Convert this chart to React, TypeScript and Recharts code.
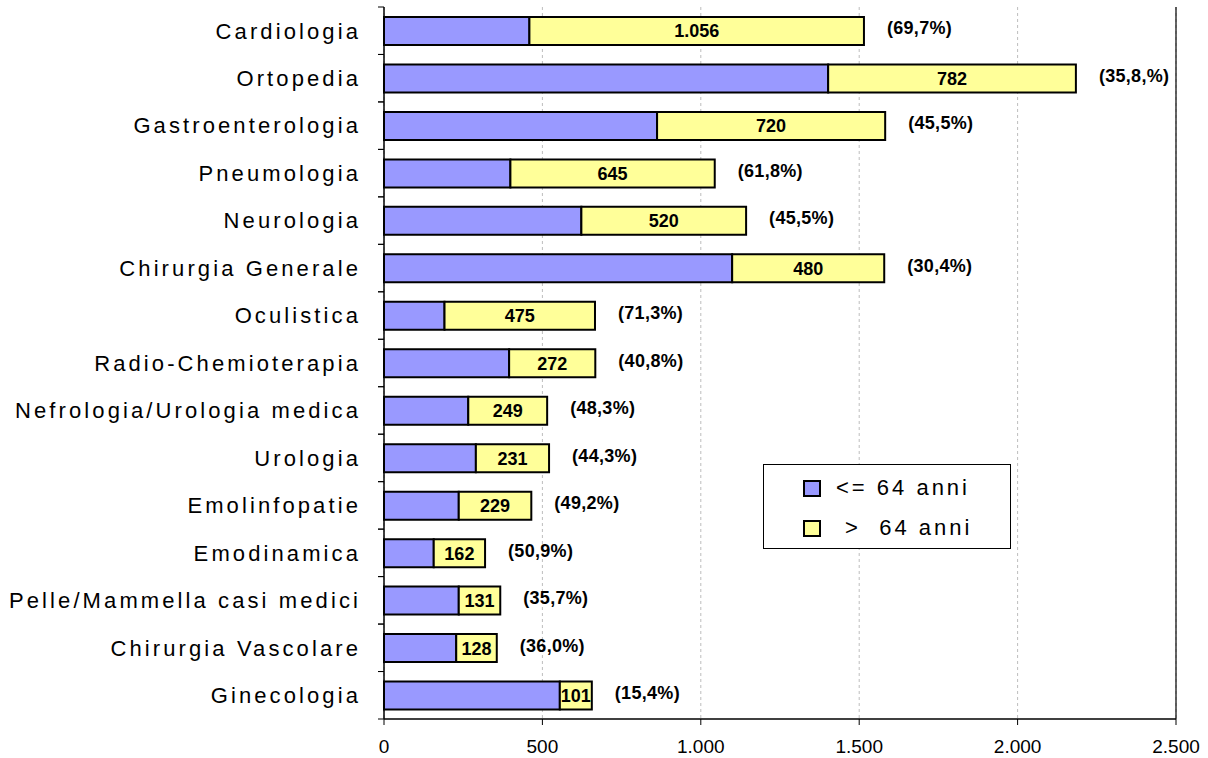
import React from 'react';
import { BarChart, Bar, XAxis, YAxis, CartesianGrid, ReferenceLine, LabelList } from 'recharts';

const categories = [
  'Cardiologia', 'Ortopedia', 'Gastroenterologia', 'Pneumologia', 'Neurologia',
  'Chirurgia Generale', 'Oculistica', 'Radio-Chemioterapia', 'Nefrologia/Urologia medica',
  'Urologia', 'Emolinfopatie', 'Emodinamica', 'Pelle/Mammella casi medici',
  'Chirurgia Vascolare', 'Ginecologia',
];
const under64 = [459, 1402, 862, 399, 623, 1099, 191, 395, 266, 290, 236, 157, 236, 228, 555];
const over64 = [1056, 782, 720, 645, 520, 480, 475, 272, 249, 231, 229, 162, 131, 128, 101];
const pctLabels = [
  '(69,7%)', '(35,8,%)', '(45,5%)', '(61,8%)', '(45,5%)', '(30,4%)', '(71,3%)', '(40,8%)',
  '(48,3%)', '(44,3%)', '(49,2%)', '(50,9%)', '(35,7%)', '(36,0%)', '(15,4%)',
];
const xTicks = [0, 500, 1000, 1500, 2000, 2500];
const seriesNames = ['<= 64 anni', ' >  64 anni'];

const data = categories.map((name, i) => ({
  name,
  under: under64[i],
  over: over64[i],
  pct: pctLabels[i],
}));

const FONT = '"Liberation Sans", Arial, sans-serif';
const BLUE = '#9999FF';
const YELLOW = '#FFFF99';

const fmt = (v: number) => v.toString().replace(/\B(?=(\d{3})+(?!\d))/g, '.');

const CategoryTick = (props: any) => {
  const { x, y, payload } = props;
  const half = payload && payload.offset ? payload.offset : 23.7;
  const axisX = x + 20;
  return (
    <g>
      <line x1={axisX - 6} x2={axisX} y1={y - half} y2={y - half} stroke="#000" strokeWidth={1} />
      <line x1={axisX - 6} x2={axisX} y1={y + half} y2={y + half} stroke="#000" strokeWidth={1} />
      <text
        x={x - 3}
        y={y}
        dy="0.355em"
        textAnchor="end"
        fontFamily={FONT}
        fontSize={22}
        letterSpacing={3.1}
        fill="#000"
      >
        {payload.value}
      </text>
    </g>
  );
};

const ValueLabel = (props: any) => {
  const { x, y, width, height, value } = props;
  return (
    <text
      x={x + width / 2}
      y={y + height / 2}
      dy="0.36em"
      textAnchor="middle"
      fontFamily={FONT}
      fontWeight="bold"
      fontSize={18}
      fill="#000"
    >
      {fmt(value)}
    </text>
  );
};

const PctLabel = (props: any) => {
  const { x, y, width, height, value } = props;
  return (
    <text
      x={x + width + 23}
      y={y + height / 2 - 3}
      dy="0.36em"
      textAnchor="start"
      fontFamily={FONT}
      fontWeight="bold"
      fontSize={18}
      letterSpacing={0.3}
      fill="#000"
    >
      {value}
    </text>
  );
};

const LegendBox = () => (
  <div
    style={{
      position: 'absolute',
      left: 763,
      top: 464,
      width: 246,
      height: 83,
      border: '1px solid #000',
      background: '#fff',
      fontFamily: FONT,
      fontSize: 22,
      letterSpacing: 3,
      color: '#000',
    }}
  >
    {seriesNames.map((n, i) => (
      <div
        key={n}
        style={{
          position: 'absolute',
          left: 39,
          top: i === 0 ? 12 : 52,
          height: 22,
          display: 'flex',
          alignItems: 'center',
          whiteSpace: 'pre',
        }}
      >
        <div
          style={{
            width: 14,
            height: 13,
            border: '2px solid #000',
            background: i === 0 ? BLUE : YELLOW,
            marginRight: 15,
          }}
        />
        <span>{n}</span>
      </div>
    ))}
  </div>
);

export default function App() {
  return (
    <div style={{ position: 'absolute', left: 0, top: 0, width: 1208, height: 758, background: '#fff' }}>
      <BarChart
        width={1208}
        height={758}
        data={data}
        layout="vertical"
        margin={{ top: 7, right: 32, bottom: 0, left: 0 }}
        barCategoryGap="38%"
      >
        <CartesianGrid horizontal={false} stroke="#bdbdbd" strokeDasharray="3 3" />
        <XAxis
          type="number"
          xAxisId={0}
          domain={[0, 2500]}
          ticks={xTicks}
          height={39}
          tickFormatter={fmt}
          tickSize={6}
          tickMargin={15}
          axisLine={{ stroke: '#000', strokeWidth: 1.5 }}
          tickLine={{ stroke: '#000' }}
          tick={{ fontFamily: FONT, fontSize: 19, fill: '#000' }}
          interval={0}
        />
        <XAxis
          type="number"
          xAxisId="top"
          orientation="top"
          domain={[0, 2500]}
          height={0}
          tick={false}
          tickLine={false}
          axisLine={{ stroke: '#444', strokeWidth: 1 }}
        />
        <YAxis
          type="category"
          dataKey="name"
          width={384}
          tickLine={false}
          axisLine={{ stroke: '#000', strokeWidth: 1.5 }}
          tick={<CategoryTick />}
          tickSize={0}
          tickMargin={20}
          interval={0}
        />
        <ReferenceLine x={2500} stroke="#000" strokeWidth={1.2} />
        <Bar dataKey="under" stackId="a" fill={BLUE} stroke="#000" strokeWidth={2} barSize={28} isAnimationActive={false} />
        <Bar dataKey="over" stackId="a" fill={YELLOW} stroke="#000" strokeWidth={2} barSize={28} isAnimationActive={false}>
          <LabelList dataKey="over" content={<ValueLabel />} />
          <LabelList dataKey="pct" content={<PctLabel />} />
        </Bar>
      </BarChart>
      <LegendBox />
    </div>
  );
}
